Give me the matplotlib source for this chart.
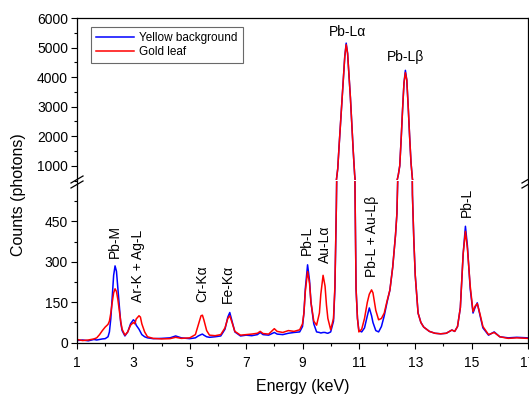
import matplotlib
matplotlib.use("Agg")
import matplotlib.pyplot as plt
from matplotlib.ticker import MultipleLocator
from matplotlib.lines import Line2D

plt.rcParams['font.family'] = ['Liberation Sans', 'DejaVu Sans']

# spectra (energy in keV, counts)
energy = [1.0, 1.2, 1.4, 1.6, 1.7, 1.8, 1.9, 2.0, 2.1, 2.15, 2.2, 2.25, 2.3, 2.35, 2.4,
          2.45, 2.5, 2.55, 2.6, 2.7, 2.8, 2.9, 3.0, 3.05, 3.1, 3.2, 3.25, 3.3, 3.4, 3.5,
          3.7, 4.0, 4.3, 4.5, 4.7, 5.0, 5.2, 5.3, 5.4, 5.45, 5.5, 5.6, 5.7, 5.9, 6.1,
          6.25, 6.35, 6.42, 6.5, 6.6, 6.8, 7.0, 7.2, 7.4, 7.5, 7.6, 7.8, 8.0, 8.1, 8.3,
          8.5, 8.7, 8.9, 9.0, 9.05, 9.1, 9.18, 9.25, 9.3, 9.4, 9.5, 9.6, 9.65, 9.73, 9.8,
          9.85, 9.9, 10.0, 10.1, 10.15, 10.2, 10.25, 10.3, 10.4, 10.5, 10.55, 10.6, 10.7, 10.8, 10.85,
          10.9, 10.95, 11.0, 11.1, 11.2, 11.3, 11.37, 11.45, 11.5, 11.6, 11.7, 11.8, 11.9, 12.0, 12.1,
          12.2, 12.3, 12.35, 12.4, 12.45, 12.5, 12.55, 12.6, 12.65, 12.7, 12.75, 12.8, 12.85, 12.9, 12.95,
          13.0, 13.1, 13.2, 13.3, 13.5, 13.7, 13.9, 14.1, 14.3, 14.4, 14.5, 14.6, 14.7, 14.78, 14.85,
          14.95, 15.05, 15.12, 15.2, 15.3, 15.4, 15.6, 15.8, 16.0, 16.3, 16.6, 17.0]

yellow = [8, 10, 7, 12, 10, 12, 14, 15, 22, 40, 90, 170, 250, 285, 265,
          200, 130, 75, 45, 25, 40, 70, 85, 80, 65, 50, 40, 30, 22, 18,
          15, 16, 18, 25, 18, 15, 18, 25, 30, 32, 28, 22, 20, 22, 25,
          50, 95, 112, 80, 40, 25, 28, 26, 30, 38, 30, 28, 38, 32, 30,
          35, 38, 40, 60, 110, 200, 289, 230, 150, 70, 40, 38, 36, 38, 38,
          36, 35, 40, 80, 200, 500, 900, 1700, 3200, 4700, 5150, 4800, 3300, 1500, 700,
          200, 90, 45, 40, 55, 100, 129, 100, 75, 45, 40, 60, 100, 150, 195,
          280, 400, 480, 700, 1000, 1900, 2900, 3800, 4230, 3900, 3000, 2000, 1100, 550, 380,
          250, 110, 75, 58, 42, 35, 33, 35, 47, 42, 60, 130, 330, 432, 360,
          200, 110, 130, 148, 100, 55, 28, 40, 22, 18, 20, 18]

gold = [12, 8, 10, 14, 18, 30, 45, 58, 68, 80, 110, 150, 185, 200, 190,
        160, 120, 80, 50, 28, 40, 65, 75, 70, 88, 100, 95, 70, 40, 22,
        16, 14, 15, 20, 16, 18, 30, 65, 100, 102, 85, 45, 28, 26, 30,
        55, 90, 100, 75, 42, 28, 30, 32, 35, 42, 34, 32, 52, 42, 38,
        45, 42, 48, 70, 110, 190, 264, 220, 150, 80, 65, 110, 180, 250, 210,
        140, 90, 48, 90, 210, 500, 900, 1700, 3200, 4700, 5100, 4800, 3300, 1500, 700,
        200, 90, 40, 50, 90, 150, 180, 196, 185, 120, 85, 90, 110, 155, 195,
        280, 400, 480, 700, 1000, 1900, 2900, 3800, 4150, 3900, 3000, 2000, 1100, 550, 380,
        250, 110, 75, 58, 42, 35, 33, 35, 47, 42, 60, 130, 330, 413, 350,
        210, 115, 135, 145, 105, 60, 30, 38, 22, 16, 18, 16]

x_ticks = [1, 3, 5, 7, 9, 11, 13, 15, 17]
labels_low = [("Pb-M", 2.35, 315), ("Ar-K + Ag-L", 3.17, 151), ("Cr-K\u03b1", 5.44, 151),
              ("Fe-K\u03b1", 6.36, 148), ("Pb-L", 9.17, 326), ("Au-L\u03b1", 9.81, 297),
              ("Pb-L + Au-L\u03b2", 11.48, 245), ("Pb-L", 14.82, 468)]
labels_top = [("Pb-L\u03b1", 10.6, 5300), ("Pb-L\u03b2", 12.65, 4450)]

W, H = 529, 394
fig = plt.figure(figsize=(W / 100, H / 100), dpi=100)
left, right = 77 / W, 528 / W
ax_top = fig.add_axes([left, 1 - 180 / H, right - left, (180 - 18) / H])
ax_low = fig.add_axes([left, 1 - 342.7 / H, right - left, (342.7 - 181) / H])

for ax in (ax_top, ax_low):
    ax.plot(energy, yellow, color='#0000ff', lw=1.1, label='Yellow background')
    ax.plot(energy, gold, color='#ff0000', lw=1.1, label='Gold leaf')
    ax.set_xlim(1, 17)
    ax.set_xticks(x_ticks)
    ax.xaxis.set_minor_locator(MultipleLocator(1))
    ax.tick_params(which='both', direction='out', right=False, top=False,
                   labelsize=10, pad=2)
    ax.tick_params(which='major', length=4.5, width=0.8)
    ax.tick_params(which='minor', length=2.5, width=0.8)
    for s in ax.spines.values():
        s.set_linewidth(0.9)

ax_top.set_ylim(520, 6000)
ax_top.yaxis.set_major_locator(MultipleLocator(1000))
ax_top.yaxis.set_minor_locator(MultipleLocator(500))
ax_top.spines['bottom'].set_visible(False)
ax_top.tick_params(axis='x', which='both', bottom=False, labelbottom=False)

ax_low.set_ylim(0, 600)
ax_low.set_yticks([0, 150, 300, 450])
ax_low.yaxis.set_minor_locator(MultipleLocator(75))
ax_low.spines['top'].set_visible(False)
ax_low.tick_params(axis='x', pad=5)

for text, x, y in labels_low:
    ax_low.text(x, y, text, rotation=90, ha='center', va='bottom', fontsize=10)
for text, x, y in labels_top:
    ax_top.text(x, y, text, ha='center', va='bottom', fontsize=10)

leg = ax_top.legend(loc='upper left', bbox_to_anchor=(14 / 451, 1 - 9 / 162),
                    fontsize=8.5, frameon=True, fancybox=False, borderaxespad=0,
                    handlelength=3.2, handletextpad=0.5, borderpad=0.4, labelspacing=0.2)
leg.get_frame().set_edgecolor('#444444')
leg.get_frame().set_linewidth(0.8)

# axis break marks
for bx in (77, 528):
    for dy in (0, 5):
        fig.add_artist(Line2D([(bx - 6) / W, (bx + 6) / W],
                              [1 - (183 + dy) / H, 1 - (176 + dy) / H],
                              color='black', lw=0.9))

fig.text(19 / W, 1 - 195 / H, "Counts (photons)", rotation=90, ha='center',
         va='center', fontsize=11.5)
fig.text(303 / W, 1 - 387 / H, "Energy (keV)", ha='center', va='center', fontsize=11.5)

fig.savefig("out.png", dpi=100)
